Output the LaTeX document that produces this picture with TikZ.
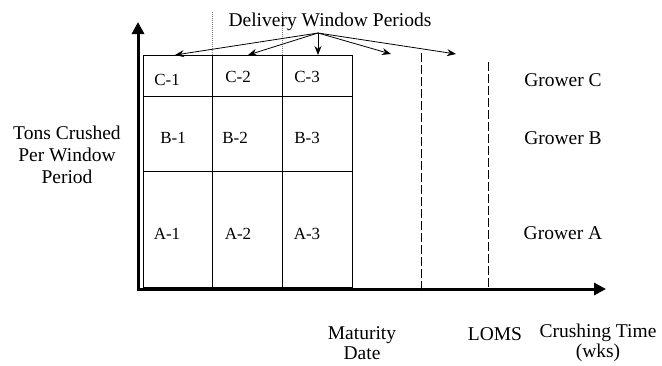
\documentclass[tikz,border=0pt]{standalone}
\usepackage{fontspec}
\setmainfont{Liberation Serif}
\usetikzlibrary{arrows.meta}
\begin{document}
\begin{tikzpicture}[x=1pt,y=-1pt,
  lbl/.style={inner sep=0pt,font=\fontsize{19.5}{22}\selectfont,align=center},
  botlbl/.style={inner sep=0pt,font=\fontsize{19.5}{20}\selectfont,align=center},
  cell/.style={inner sep=0pt,font=\fontsize{17}{20}\selectfont},
  gridline/.style={line width=0.9pt},
  axis/.style={line width=3pt,-{Triangle[length=12pt,width=12pt]}},
  ptr/.style={line width=0.8pt,-{Stealth[length=9pt,width=7pt]}},
  guide/.style={gray,line width=0.6pt,dash pattern=on 1pt off 1pt},
  dashv/.style={line width=0.8pt,dash pattern=on 9pt off 3pt}]
\useasboundingbox (0,0) rectangle (662,365);
% guides above grid
\draw[guide] (212.7,12) -- (212.7,55);
\draw[guide] (282,12) -- (282,55);
% grid
\draw[gridline] (143,55) rectangle (352,287.5);
\draw[gridline] (143,96) -- (352,96);
\draw[gridline] (143,171) -- (352,171);
\draw[gridline] (212.7,55) -- (212.7,287.5);
\draw[gridline] (282,55) -- (282,287.5);
% dashed lines
\draw[dashv] (421.7,53) -- (421.7,293);
\draw[dashv] (488,62) -- (488,287);
% axes
\coordinate (o) at (138,289);
\coordinate (ytip) at (138,22);
\coordinate (xtip) at (606,289);
\draw[axis] (136.5,289) -- (xtip);
\draw[axis] (138,290.5) -- (ytip);
% cell labels
\node[cell] (c1) at (167,80) {C-1};
\node[cell] (c2) at (238,77) {C-2};
\node[cell] (c3) at (307,77) {C-3};
\node[cell] (b1) at (173,138) {B-1};
\node[cell] (b2) at (235,138) {B-2};
\node[cell] (b3) at (307,138) {B-3};
\node[cell] (a1) at (167,234) {A-1};
\node[cell] (a2) at (238,234) {A-2};
\node[cell] (a3) at (307,234) {A-3};
% title and arrows
\node[lbl] (title) at (330,22) {Delivery Window Periods};
\coordinate (src) at (318,33);
\coordinate (t1) at (175,55);
\coordinate (t2) at (248,55);
\coordinate (t3) at (318,55);
\coordinate (t4) at (391,54);
\coordinate (t5) at (456,54);
\foreach \t in {t1,t2,t3,t4,t5} \draw[ptr] (src) -- (\t);
% growers
\node[lbl] (gc) at (563,80) {Grower C};
\node[lbl] (gb) at (563,138) {Grower B};
\node[lbl] (ga) at (563,233) {Grower A};
% left label
\node[lbl] (ylab) at (67,155) {Tons Crushed\\Per Window\\Period};
% bottom labels
\node[botlbl] (mat) at (362,343) {Maturity\\Date};
\node[botlbl] (loms) at (495,334) {LOMS};
\node[botlbl] (xlab) at (598,343) {Crushing Time\\(wks)};
\end{tikzpicture}
\end{document}
